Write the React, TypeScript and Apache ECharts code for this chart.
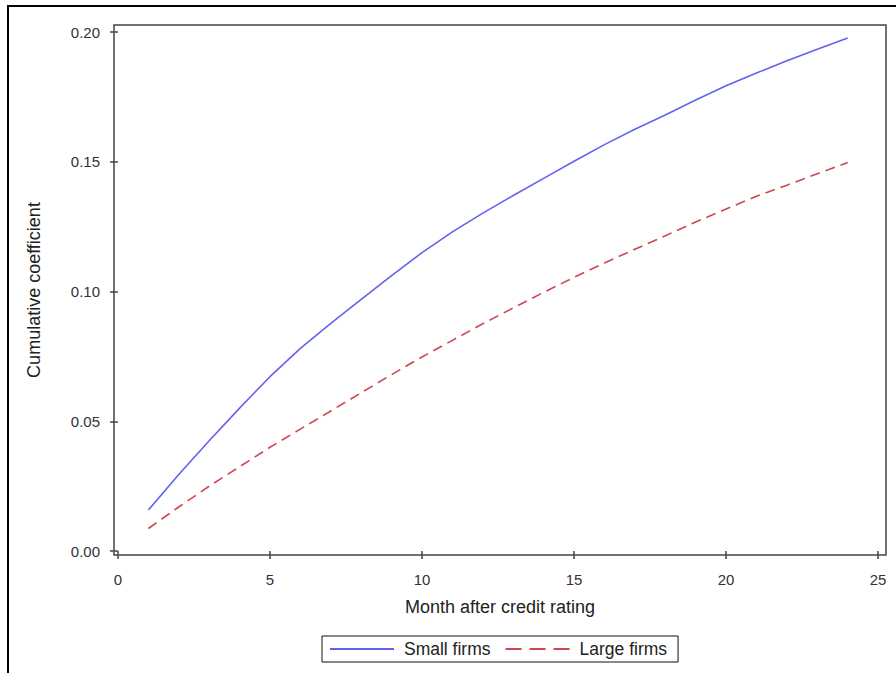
import React, { useEffect, useRef } from "react";
import * as echarts from "echarts";

const months = [1, 2, 3, 4, 5, 6, 7, 8, 9, 10, 11, 12, 13, 14, 15, 16, 17, 18, 19, 20, 21, 22, 23, 24];
const smallFirms = [
  0.0158, 0.0295, 0.0425, 0.0551, 0.0672, 0.0781, 0.0877, 0.097, 0.1061, 0.115,
  0.123, 0.1302, 0.137, 0.1436, 0.1502, 0.1566, 0.1625, 0.168, 0.1738, 0.1793,
  0.1842, 0.1889, 0.1934, 0.1977,
];
const largeFirms = [
  0.0087, 0.017, 0.025, 0.0325, 0.04, 0.047, 0.054, 0.061, 0.068, 0.0748,
  0.0812, 0.0876, 0.0937, 0.0997, 0.1055, 0.111, 0.1163, 0.1215, 0.1268, 0.1318,
  0.1367, 0.141, 0.1454, 0.1497,
];
const xTicks = [0, 5, 10, 15, 20, 25];
const yTicks = [0, 0.05, 0.1, 0.15, 0.2];

const FONT = "'Liberation Sans', Arial, sans-serif";
const BLUE = "#6262f2";
const RED = "#cf4652";

export default function App() {
  const ref = useRef<HTMLDivElement>(null);
  useEffect(() => {
    if (!ref.current) return;
    const chart = echarts.init(ref.current, null, { renderer: "svg" });
    chart.setOption({
      animation: false,
      backgroundColor: "#fff",
      textStyle: { fontFamily: FONT },
      grid: {
        left: 114,
        right: 10,
        top: 25,
        bottom: 118,
        show: true,
        borderColor: "#444",
        borderWidth: 1.5,
        backgroundColor: "transparent",
      },
      legend: {
        left: 322,
        top: 636,
        data: [
          { name: "Small firms", icon: "path://M0,0h64v2h-64z" },
          {
            name: "Large firms",
            icon: "path://M0,0h16v2h-16z M24,0h16v2h-16z M48,0h16v2h-16z",
          },
        ],
        itemWidth: 64,
        itemHeight: 16,
        itemGap: 15,
        padding: [4, 11, 4, 8],
        borderColor: "#111",
        borderWidth: 1,
        textStyle: {
          fontSize: 17.5,
          color: "#222",
          fontFamily: FONT,
          padding: [0, 0, 0, 5],
        },
      },
      xAxis: {
        type: "value",
        min: -0.13,
        max: 25.26,
        name: "Month after credit rating",
        nameLocation: "middle",
        nameGap: 43,
        nameTextStyle: { fontSize: 18, color: "#222", fontFamily: FONT },
        axisLine: { show: false },
        splitLine: { show: false },
        axisTick: {
          show: true,
          customValues: xTicks,
          length: 8,
          lineStyle: { color: "#444", width: 1.5 },
        },
        axisLabel: {
          customValues: xTicks,
          margin: 17,
          fontSize: 15,
          color: "#333",
          fontFamily: FONT,
        },
      },
      yAxis: {
        type: "value",
        min: -0.0015,
        max: 0.2027,
        name: "Cumulative coefficient",
        nameLocation: "middle",
        nameGap: 71,
        nameTextStyle: { fontSize: 18, color: "#222", fontFamily: FONT },
        axisLine: { show: false },
        splitLine: { show: false },
        axisTick: {
          show: true,
          customValues: yTicks,
          length: 8,
          lineStyle: { color: "#444", width: 1.5 },
        },
        axisLabel: {
          customValues: yTicks,
          margin: 14,
          fontSize: 15,
          color: "#333",
          fontFamily: FONT,
          formatter: (v: number) => v.toFixed(2),
        },
      },
      series: [
        {
          name: "Small firms",
          type: "line",
          data: months.map((m, i) => [m, smallFirms[i]]),
          symbol: "none",
          lineStyle: { color: BLUE, width: 1.6, type: "solid" },
          itemStyle: { color: BLUE },
        },
        {
          name: "Large firms",
          type: "line",
          data: months.map((m, i) => [m, largeFirms[i]]),
          symbol: "none",
          lineStyle: { color: RED, width: 1.6, type: [10, 6] },
          itemStyle: { color: RED },
        },
      ],
    });
    return () => chart.dispose();
  }, []);
  return (
    <div
      style={{
        position: "fixed",
        left: 0,
        top: 0,
        width: 896,
        height: 673,
        overflow: "hidden",
        background: "#fff",
      }}
    >
      <div ref={ref} style={{ position: "absolute", left: 0, top: 0, width: 896, height: 673 }} />
      <div
        style={{
          position: "absolute",
          left: 7,
          top: 5,
          width: 920,
          height: 700,
          border: "2px solid #000",
          boxSizing: "border-box",
          pointerEvents: "none",
        }}
      />
    </div>
  );
}
